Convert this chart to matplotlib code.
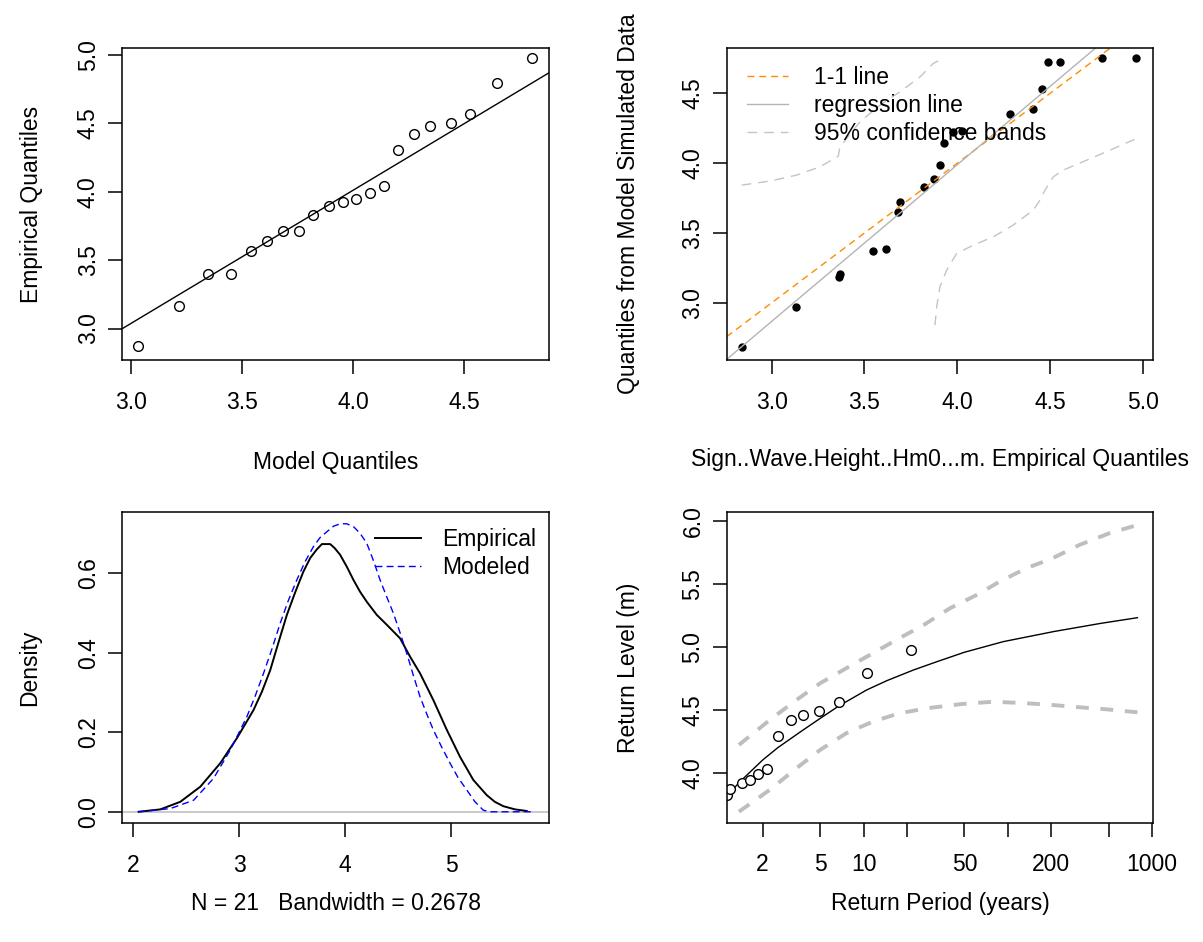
import numpy as np
import matplotlib.pyplot as plt

plt.rcParams['font.family'] = ['Liberation Sans', 'DejaVu Sans']
plt.rcParams['font.size'] = 16.5

# ---------- data ----------
# top left: QQ plot
model_q = [3.028, 3.213, 3.344, 3.45, 3.539, 3.611, 3.683, 3.758, 3.821, 3.889, 3.952,
           4.011, 4.074, 4.14, 4.204, 4.276, 4.348, 4.44, 4.527, 4.649, 4.805]
empirical_q = [2.876, 3.163, 3.399, 3.399, 3.569, 3.637, 3.715, 3.71, 3.832, 3.898, 3.922,
               3.949, 3.99, 4.044, 4.307, 4.421, 4.477, 4.501, 4.567, 4.793, 4.976]
qq_intercept, qq_slope = 0.123, 0.972

# top right: empirical vs simulated quantiles
emp_x = [2.838, 3.131, 3.365, 3.37, 3.548, 3.616, 3.683, 3.693, 3.821, 3.877, 3.907,
         3.929, 3.976, 4.026, 4.286, 4.41, 4.459, 4.491, 4.556, 4.782, 4.964]
sim_y = [2.685, 2.967, 3.185, 3.205, 3.37, 3.382, 3.652, 3.719, 3.831, 3.886, 3.989,
         4.142, 4.225, 4.232, 4.35, 4.388, 4.531, 4.722, 4.722, 4.751, 4.751]
reg_intercept, reg_slope = -0.499, 1.122
upper_x = [2.838, 2.991, 3.135, 3.26, 3.359, 3.368, 3.476, 3.584, 3.692, 3.8, 3.871, 3.898]
upper_y = [3.843, 3.872, 3.915, 3.974, 4.051, 4.117, 4.297, 4.416, 4.512, 4.619, 4.715, 4.733]
lower_x = [3.88, 3.889, 3.907, 3.943, 3.997, 4.087, 4.195, 4.302, 4.41, 4.446, 4.473,
           4.518, 4.572, 4.698, 4.824, 4.968]
lower_y = [2.84, 2.971, 3.115, 3.234, 3.354, 3.413, 3.473, 3.557, 3.664, 3.736, 3.807,
           3.903, 3.951, 4.022, 4.094, 4.178]

# bottom left: densities
emp_dx = [2.053, 2.257, 2.445, 2.634, 2.822, 2.979, 3.136, 3.215, 3.293, 3.37, 3.45, 3.53,
          3.606, 3.67, 3.733, 3.78, 3.858, 3.9, 3.952, 4.015, 4.077, 4.14, 4.203, 4.297,
          4.392, 4.517, 4.611, 4.705, 4.83, 4.957, 5.082, 5.207, 5.333, 5.41, 5.49, 5.6, 5.71]
emp_dy = [0.0, 0.006, 0.025, 0.063, 0.122, 0.185, 0.256, 0.302, 0.356, 0.425, 0.495, 0.553,
          0.604, 0.638, 0.66, 0.673, 0.673, 0.663, 0.646, 0.616, 0.583, 0.553, 0.528, 0.495,
          0.47, 0.436, 0.39, 0.348, 0.281, 0.206, 0.138, 0.08, 0.042, 0.025, 0.014, 0.006, 0.002]
mod_dx = [2.053, 2.351, 2.571, 2.759, 2.916, 3.073, 3.15, 3.23, 3.31, 3.387, 3.465, 3.544,
          3.62, 3.701, 3.765, 3.827, 3.89, 3.952, 4.015, 4.077, 4.14, 4.203, 4.265, 4.328,
          4.39, 4.454, 4.517, 4.58, 4.643, 4.705, 4.768, 4.83, 4.91, 4.988, 5.065, 5.145,
          5.22, 5.301, 5.364, 5.772]
mod_dy = [0.0, 0.008, 0.029, 0.084, 0.155, 0.239, 0.29, 0.348, 0.41, 0.474, 0.532, 0.583,
          0.628, 0.667, 0.69, 0.704, 0.718, 0.724, 0.724, 0.717, 0.7, 0.675, 0.632, 0.583,
          0.541, 0.499, 0.45, 0.398, 0.342, 0.289, 0.246, 0.206, 0.162, 0.122, 0.085, 0.055,
          0.026, 0.004, 0.0, 0.0]
n_obs = 21
bandwidth = 0.2678

# bottom right: return levels
rl_period = [1.13, 1.37, 2.0, 2.56, 3.82, 5.0, 6.76, 10.5, 14.5, 22.2, 32.1, 49.8, 93,
             208, 440, 790]
rl_level = [3.81, 3.92, 4.10, 4.20, 4.339, 4.43, 4.53, 4.656, 4.73, 4.815, 4.88, 4.955,
            5.04, 5.12, 5.185, 5.23]
ci_period = [1.37, 2.24, 3.43, 5.0, 7.6, 11.6, 17.7, 26.1, 39.7, 60.6, 87.6, 134, 204, 312, 504, 790]
ci_upper = [4.22, 4.418, 4.577, 4.709, 4.829, 4.948, 5.067, 5.172, 5.305, 5.41, 5.516,
            5.622, 5.702, 5.807, 5.9, 5.966]
ci_lo_period = [1.37, 2.24, 3.43, 5.0, 7.6, 11.6, 17.7, 27.5, 48, 79, 134, 204, 312, 480, 790]
ci_lower = [3.69, 3.863, 4.035, 4.18, 4.313, 4.405, 4.471, 4.511, 4.545, 4.563, 4.551,
            4.537, 4.519, 4.503, 4.479]
obs_period = [1.14, 1.19, 1.45, 1.63, 1.87, 2.13, 2.56, 3.13, 3.82, 4.94, 6.76, 10.5, 21.3]
obs_level = [3.82, 3.87, 3.92, 3.94, 3.99, 4.03, 4.29, 4.42, 4.46, 4.49, 4.56, 4.79, 4.97]


def style(ax):
    for s in ax.spines.values():
        s.set_linewidth(1.1)
    ax.tick_params(length=10, width=1.1, pad=6)
    ax.tick_params(axis='x', pad=12)
    plt.setp(ax.get_yticklabels(), rotation=90, va='center')


fig = plt.figure(figsize=(12.03, 9.42), dpi=100)
ax1 = fig.add_axes([0.1014, 0.6178, 0.355, 0.3312])
ax2 = fig.add_axes([0.604, 0.6178, 0.3546, 0.3312])
ax3 = fig.add_axes([0.1014, 0.126, 0.3552, 0.3302])
ax4 = fig.add_axes([0.604, 0.1267, 0.3546, 0.3295])

# ---------- top left ----------
ax1.plot(model_q, empirical_q, 'o', mfc='white', mec='black', ms=7, mew=1.0)
ax1.axline((0, qq_intercept), slope=qq_slope, color='black', lw=1.0)
ax1.set_xlim(2.958, 4.883)
ax1.set_ylim(2.77, 5.05)
ax1.set_xticks([3.0, 3.5, 4.0, 4.5])
ax1.set_yticks([3.0, 3.5, 4.0, 4.5, 5.0])
ax1.set_xlabel('Model Quantiles')
ax1.set_ylabel('Empirical Quantiles')
style(ax1)
ax1.xaxis.set_label_coords(0.5, -0.327)
ax1.yaxis.set_label_coords(-0.213, 0.5)

# ---------- top right ----------
ax2.plot(emp_x, sim_y, 'o', color='black', ms=5)
ax2.axline((0, 0), slope=1, color='#ff8c00', lw=1.0, ls=(0, (5, 3.5)), label='1-1 line')
ax2.axline((0, reg_intercept), slope=reg_slope, color='#b4b4b4', lw=1.0, label='regression line')
ax2.plot(upper_x, upper_y, color='#c4c4c4', lw=1.0, ls=(0, (7, 5)), label='95% confidence bands')
ax2.plot(lower_x, lower_y, color='#c4c4c4', lw=1.0, ls=(0, (7, 5)))
ax2.set_xlim(2.757, 5.056)
ax2.set_ylim(2.59, 4.825)
ax2.set_xticks([3.0, 3.5, 4.0, 4.5, 5.0])
ax2.set_yticks([3.0, 3.5, 4.0, 4.5])
ax2.set_xlabel('Sign..Wave.Height..Hm0...m. Empirical Quantiles')
ax2.set_ylabel('Quantiles from Model Simulated Data')
ax2.legend(loc='upper left', bbox_to_anchor=(0.047, 0.941), frameon=False, borderpad=0,
           borderaxespad=0, handlelength=1.8, handletextpad=1.15, labelspacing=0.2)
style(ax2)
ax2.xaxis.set_label_coords(0.5, -0.32)
ax2.yaxis.set_label_coords(-0.231, 0.5)

# ---------- bottom left ----------
ax3.axhline(0, color='#c0c0c0', lw=1.2)
ax3.plot(emp_dx, emp_dy, color='black', lw=1.4, label='Empirical')
ax3.plot(mod_dx, mod_dy, color='blue', lw=1.0, ls=(0, (5, 3)), label='Modeled')
ax3.set_xlim(1.896, 5.923)
ax3.set_ylim(-0.029, 0.753)
ax3.set_xticks([2, 3, 4, 5])
ax3.set_yticks([0.0, 0.2, 0.4, 0.6])
ax3.set_yticklabels(['0.0', '0.2', '0.4', '0.6'])
ax3.set_xlabel(f'N = {n_obs}   Bandwidth = {bandwidth}')
ax3.set_ylabel('Density')
ax3.legend(loc='upper left', bbox_to_anchor=(0.593, 0.9495), frameon=False, borderpad=0,
           borderaxespad=0, handlelength=2.0, handletextpad=0.9, labelspacing=0.2)
style(ax3)
ax3.xaxis.set_label_coords(0.5, -0.259)
ax3.yaxis.set_label_coords(-0.215, 0.5)

# ---------- bottom right ----------
ax4.set_xscale('log')
ax4.plot(rl_period, rl_level, color='black', lw=1.0)
ax4.plot(ci_period, ci_upper, color='#bebebe', lw=2.8, ls=(0, (3.3, 3.0)))
ax4.plot(ci_lo_period, ci_lower, color='#bebebe', lw=2.8, ls=(0, (3.3, 3.0)))
ax4.plot(obs_period, obs_level, 'o', mfc='white', mec='black', ms=7, mew=1.0)
ax4.set_xlim(1.126, 1016)
ax4.set_ylim(3.603, 6.067)
ax4.set_xticks([2, 5, 10, 20, 50, 100, 200, 500, 1000])
ax4.set_xticklabels(['2', '5', '10', '', '50', '', '200', '', '1000'])
ax4.minorticks_off()
ax4.set_yticks([4.0, 4.5, 5.0, 5.5, 6.0])
ax4.set_xlabel('Return Period (years)')
ax4.set_ylabel('Return Level (m)')
style(ax4)
ax4.xaxis.set_label_coords(0.5, -0.26)
ax4.yaxis.set_label_coords(-0.231, 0.5)

for ax in (ax1, ax2, ax3, ax4):
    ax.xaxis.label.set_va('center')
    ax.yaxis.label.set_va('center')

plt.savefig('out.png', dpi=100)
